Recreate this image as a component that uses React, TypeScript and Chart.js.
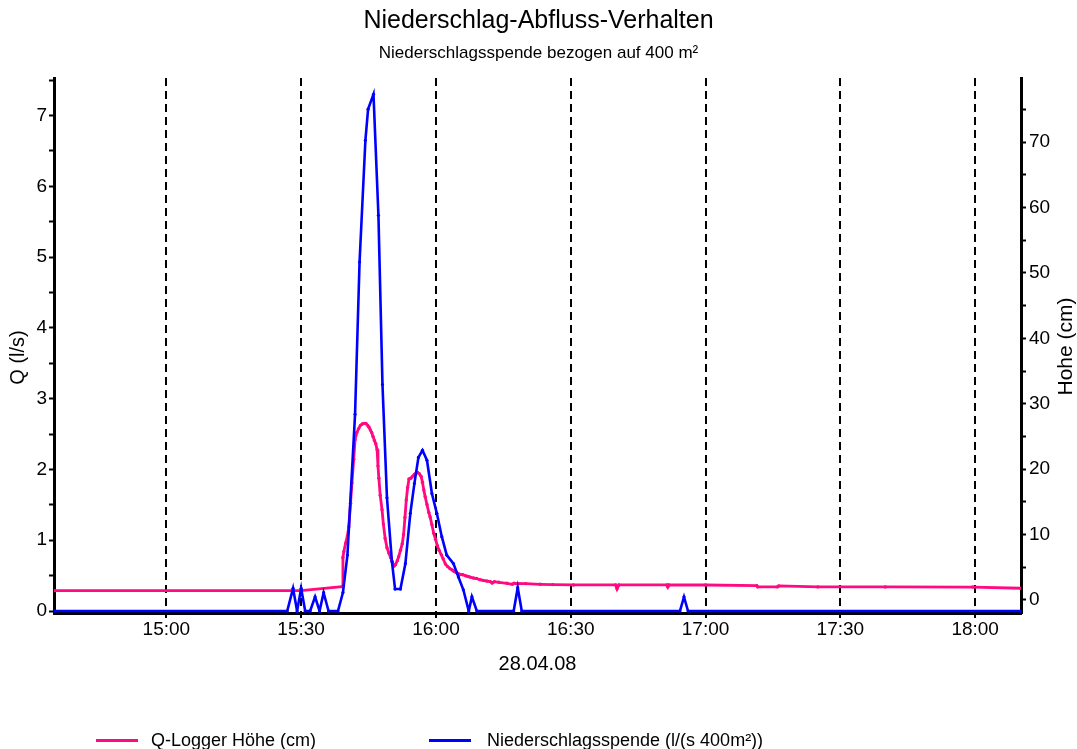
import React, { useEffect, useRef } from 'react';
import { Chart, registerables } from 'chart.js';

Chart.register(...registerables);

// ---------- text ----------
const TITLE = 'Niederschlag-Abfluss-Verhalten';
const SUBTITLE = 'Niederschlagsspende bezogen auf 400 m²';
const X_TITLE = '28.04.08';
const Y_LEFT_TITLE = 'Q (l/s)';
const Y_RIGHT_TITLE = 'Hohe (cm)';
const LEVEL_LABEL = 'Q-Logger Höhe (cm)';
const RAIN_LABEL = 'Niederschlagsspende (l/(s 400m²))';

// ---------- axes (x in minutes since midnight) ----------
const X_MIN = 875; // 14:35
const X_MAX = 1090.2; // ~18:10
const X_STEP = 30;
const LEFT_MIN = -0.028;
const LEFT_MAX = 7.53;
const LEFT_STEP = 0.5;
const LEFT_LABEL_STEP = 1;
const RIGHT_MIN = -1.99;
const RIGHT_MAX = 79.8;
const RIGHT_STEP = 5;
const RIGHT_LABEL_STEP = 10;

// ---------- series: Niederschlagsspende (left axis, l/s) ----------
const rainTimes = [
  875, 926.9, 928.2, 929.1, 930.0, 930.9, 932.0, 933.1, 934.1, 935.0, 936.1, 938.2,
  939.3, 940.3, 942.0, 943.0, 944.3, 944.9, 946.1, 947.2, 948.1, 949.1, 950.2, 950.9,
  952.1, 953.2, 954.3, 955.2, 956.1, 957.0, 958.0, 959.1, 960.2, 961.3, 962.4, 963.9,
  965.0, 966.1, 967.3, 968.0, 969.1, 977.3, 978.2, 979.1, 1014.3, 1015.2, 1016.1, 1090.2,
];
const rainValues = [
  0, 0, 0.32, 0, 0.32, 0, 0, 0.2, 0, 0.26, 0, 0,
  0.26, 0.79, 2.78, 4.93, 6.65, 7.09, 7.3, 5.59, 3.2, 1.6, 0.7, 0.31,
  0.31, 0.67, 1.38, 1.8, 2.17, 2.27, 2.13, 1.66, 1.38, 1.05, 0.79, 0.67,
  0.48, 0.3, 0, 0.2, 0, 0, 0.33, 0, 0, 0.2, 0, 0,
];

// ---------- series: Q-Logger Höhe (right axis, cm) ----------
const levelTimes = [
  875, 930, 939.1, 939.3, 939.5, 939.9, 940.3, 940.6, 941.0, 941.3, 941.7, 942.0,
  942.4, 942.8, 943.2, 943.6, 944.0, 944.4, 944.8, 945.1, 945.4, 945.7, 946.0, 946.3,
  946.6, 946.9, 947.1, 947.3, 947.6, 948.0, 948.3, 948.7, 949.1, 949.5, 949.9, 950.3,
  950.7, 951.0, 951.4, 951.7, 952.1, 952.5, 952.8, 953.1, 953.4, 953.7, 954.0, 954.4,
  954.8, 955.2, 955.6, 955.9, 956.3, 956.7, 957.0, 957.3, 957.6, 958.0, 958.4, 958.7,
  959.1, 959.5, 959.9, 960.3, 960.7, 961.2, 961.6, 962.1, 962.6, 963.1, 963.6, 964.0,
  964.5, 965.0, 965.4, 966.0, 966.6, 967.1, 967.6, 968.4, 969.0, 969.8, 970.5, 971.3,
  972.1, 972.5, 973.0, 974.0, 975.8, 977.0, 977.4, 980.0, 983.2, 986.0, 990.6, 1000.0,
  1000.3, 1000.7, 1011.4, 1011.6, 1011.8, 1020.0, 1031.4, 1031.6, 1036.0, 1036.3, 1045.0,
  1060.0, 1079.5, 1090.2,
];
const levelValues = [
  1.42, 1.42, 2.03, 6.5, 7.4, 8.7, 9.8, 11.2, 14.8, 17.9, 21.5, 24.5,
  25.6, 26.2, 26.7, 26.9, 27.0, 27.0, 26.7, 26.4, 26.0, 25.6, 25.0, 24.4,
  23.9, 23.0, 20.5, 18.6, 16.0, 13.8, 11.6, 9.4, 8.0, 7.2, 6.5, 5.8,
  5.2, 5.4, 6.0, 6.6, 7.6, 8.6, 10.0, 12.6, 15.3, 17.2, 18.5, 18.6,
  18.9, 19.2, 19.4, 19.5, 19.3, 18.9, 18.0, 16.8, 15.8, 14.6, 13.4, 12.7,
  11.5, 10.2, 9.3, 8.3, 7.6, 6.9, 6.3, 5.5, 5.1, 4.8, 4.6, 4.4,
  4.2, 4.0, 3.9, 3.85, 3.7, 3.6, 3.5, 3.35, 3.3, 3.1, 3.0, 2.9,
  2.8, 2.6, 2.8, 2.7, 2.55, 2.4, 2.55, 2.5, 2.4, 2.35, 2.3, 2.3,
  1.7, 2.3, 2.3, 2.0, 2.3, 2.29, 2.2, 2.0, 2.0, 2.15, 2.0,
  1.99, 1.98, 1.79,
];

const RAIN_COLOR = '#0000ff';
const LEVEL_COLOR = '#ff0a80';
const FONT = '"Liberation Sans", Arial, Helvetica, sans-serif';

const fmtTime = (v: number) => {
  const h = Math.floor(v / 60);
  const m = Math.round(v - h * 60);
  return `${h}:${String(m).padStart(2, '0')}`;
};

const isMultiple = (v: number, step: number) => Math.abs(v / step - Math.round(v / step)) < 1e-6;

// draws both vertical axis titles, reading bottom-to-top
const axisTitlesPlugin = {
  id: 'axisTitles',
  afterDraw(chart: any) {
    const { ctx, chartArea } = chart;
    const mid = (chartArea.top + chartArea.bottom) / 2;
    const draw = (text: string, x: number, y: number, size: number) => {
      ctx.save();
      ctx.translate(x, y);
      ctx.rotate(-Math.PI / 2);
      ctx.font = `${size}px ${FONT}`;
      ctx.fillStyle = '#000';
      ctx.textAlign = 'center';
      ctx.textBaseline = 'middle';
      ctx.fillText(text, 0, 0);
      ctx.restore();
    };
    draw(Y_LEFT_TITLE, chartArea.left - 36, mid + 12, 20);
    draw(Y_RIGHT_TITLE, chartArea.right + 45, mid + 1, 21);
  },
};

export default function App() {
  const ref = useRef<HTMLCanvasElement | null>(null);

  useEffect(() => {
    if (!ref.current) return;
    Chart.defaults.font.family = FONT;
    Chart.defaults.color = '#000';

    const rainData = rainTimes.map((t, i) => ({ x: t, y: rainValues[i] }));
    const levelData = levelTimes.map((t, i) => ({ x: t, y: levelValues[i] }));

    const chart = new Chart(ref.current, {
      type: 'line',
      data: {
        datasets: [
          {
            label: RAIN_LABEL,
            data: rainData,
            yAxisID: 'y',
            borderColor: RAIN_COLOR,
            backgroundColor: RAIN_COLOR,
            borderWidth: 2.6,
            pointRadius: 1.6,
            pointBorderWidth: 0,
            tension: 0,
          },
          {
            label: LEVEL_LABEL,
            data: levelData,
            yAxisID: 'y1',
            borderColor: LEVEL_COLOR,
            backgroundColor: LEVEL_COLOR,
            borderWidth: 2.8,
            pointRadius: 1.7,
            pointBorderWidth: 0,
            tension: 0,
          },
        ],
      },
      options: {
        responsive: false,
        animation: false,
        devicePixelRatio: 1,
        parsing: false as any,
        layout: { padding: 0 },
        plugins: {
          legend: { display: false },
          tooltip: { enabled: false },
          title: {
            display: true,
            text: TITLE,
            color: '#000',
            font: { size: 25, weight: 'normal' as any },
            padding: { top: 6, bottom: 5 },
          },
          subtitle: {
            display: true,
            text: SUBTITLE,
            color: '#000',
            font: { size: 17 },
            padding: { top: 2, bottom: 14.6 },
          },
        },
        scales: {
          x: {
            type: 'linear',
            min: X_MIN,
            max: X_MAX,
            afterFit: (s: any) => {
              s.height = 136;
            },
            ticks: {
              stepSize: X_STEP,
              includeBounds: false,
              autoSkip: false,
              maxRotation: 0,
              padding: 0,
              font: { size: 19 },
              color: '#000',
              callback: (v: any) => fmtTime(Number(v)),
            },
            grid: {
              display: true,
              drawOnChartArea: true,
              color: '#000',
              lineWidth: 2,
              tickLength: 5,
              tickWidth: 2,
              tickColor: '#000',
            },
            border: { display: true, color: '#000', width: 3, dash: [8, 5] },
            title: {
              display: true,
              text: X_TITLE,
              color: '#000',
              font: { size: 20 },
              padding: { top: 0, bottom: 72.5 },
            },
          },
          y: {
            type: 'linear',
            position: 'left',
            min: LEFT_MIN,
            max: LEFT_MAX,
            afterFit: (s: any) => {
              s.width = 54;
            },
            ticks: {
              stepSize: LEFT_STEP,
              includeBounds: false,
              autoSkip: false,
              padding: 2,
              font: { size: 19 },
              color: '#000',
              callback: (v: any) => (isMultiple(Number(v), LEFT_LABEL_STEP) ? String(Math.round(Number(v))) : ''),
            },
            grid: {
              drawOnChartArea: false,
              drawTicks: true,
              tickLength: 5,
              tickWidth: 2,
              tickColor: '#000',
              color: '#000',
            },
            border: { display: true, color: '#000', width: 3 },
          },
          y1: {
            type: 'linear',
            position: 'right',
            min: RIGHT_MIN,
            max: RIGHT_MAX,
            afterFit: (s: any) => {
              s.width = 56;
            },
            ticks: {
              stepSize: RIGHT_STEP,
              includeBounds: false,
              autoSkip: false,
              padding: 3,
              font: { size: 19 },
              color: '#000',
              callback: (v: any) => (isMultiple(Number(v), RIGHT_LABEL_STEP) ? String(Math.round(Number(v))) : ''),
            },
            grid: {
              drawOnChartArea: false,
              drawTicks: true,
              tickLength: 5,
              tickWidth: 2,
              tickColor: '#000',
              color: '#000',
            },
            border: { display: true, color: '#000', width: 3 },
          },
        },
      },
      plugins: [axisTitlesPlugin],
    } as any);

    return () => chart.destroy();
  }, []);

  const legendText: React.CSSProperties = {
    position: 'absolute',
    top: 729,
    height: 22,
    lineHeight: '22px',
    fontFamily: FONT,
    fontSize: 18,
    color: '#000',
    whiteSpace: 'nowrap',
  };
  const legendLine: React.CSSProperties = { position: 'absolute', top: 739, width: 42, height: 3 };

  return (
    <div style={{ position: 'absolute', left: 0, top: 0, width: 1077, height: 749, background: '#fff', overflow: 'hidden' }}>
      <canvas ref={ref} width={1077} height={749} style={{ display: 'block', width: 1077, height: 749 }} />
      <div style={{ ...legendLine, left: 96, background: LEVEL_COLOR }} />
      <div style={{ ...legendText, left: 151 }}>{LEVEL_LABEL}</div>
      <div style={{ ...legendLine, left: 429, background: RAIN_COLOR }} />
      <div style={{ ...legendText, left: 487 }}>{RAIN_LABEL}</div>
    </div>
  );
}
